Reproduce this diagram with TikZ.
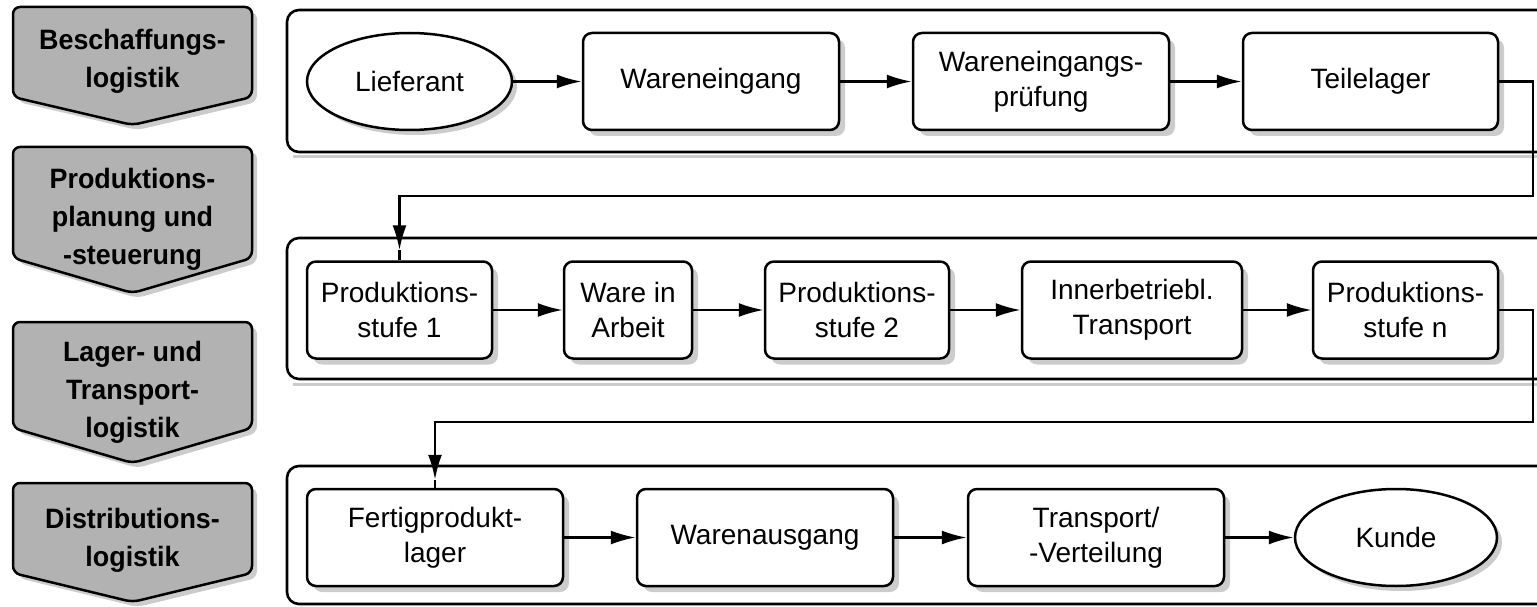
\documentclass[tikz,border=0pt]{standalone}
\usepackage{fontspec}
\setmainfont{Liberation Sans}
\newfontfamily\lblfont[FakeStretch=0.96]{Liberation Sans}
\usetikzlibrary{shapes.geometric,arrows.meta,shadows}
\definecolor{lblgray}{gray}{0.70}
\definecolor{shd}{gray}{0.80}
\begin{document}
\begin{tikzpicture}[x=1pt,y=-1pt,
  boxfont/.style={font=\fontsize{28}{35}\selectfont},
  box/.style={draw, line width=2.5pt, rounded corners=9pt, minimum height=97pt,
    inner sep=0pt, align=center, boxfont, fill=white,
    general shadow={fill=shd, shadow xshift=6pt, shadow yshift=-6pt}},
  oval/.style={ellipse, draw, line width=2.5pt, minimum height=97pt,
    inner sep=0pt, align=center, boxfont, fill=white,
    general shadow={fill=shd, shadow xshift=5pt, shadow yshift=-5pt}},
  lbltext/.style={align=center, inner sep=0pt,
    font=\lblfont\bfseries\fontsize{28}{38}\selectfont},
  lblshape/.style={fill=lblgray, draw=black, line width=2.5pt, rounded corners=7pt},
  conn/.style={line width=2.4pt},
  arr/.style={conn, -{Latex[length=25pt,width=14pt]}},
  panel/.style={line width=2.6pt, rounded corners=12pt},
]
\useasboundingbox (0,0) rectangle (1537,607);
\clip (0,0) rectangle (1537,607);

% left category labels
\foreach \t/\b/\p in {7/97/125, 147/258/293, 322/428/463, 483/573/602} {
  \fill[shd, rounded corners=7pt] (18,\t+5) -- (257,\t+5) -- (257,\b+5) -- (137.5,\p+5) -- (18,\b+5) -- cycle;
  \draw[lblshape] (13,\t) -- (252,\t) -- (252,\b) -- (132.5,\p) -- (13,\b) -- cycle;
}
\node[lbltext] (l1) at (132.5,61) {Beschaffungs-\\logistik};
\node[lbltext] (l2) at (132.5,219) {Produktions-\\planung und\\-steuerung};
\node[lbltext] (l3) at (132.5,392) {Lager- und\\Transport-\\logistik};
\node[lbltext] (l4) at (132.5,540) {Distributions-\\logistik};

% panels (open to the right)
\foreach \t/\b in {10/152, 238/379, 466/604} {
  \draw[shd, line width=3pt] (293,\b+5) -- (1560,\b+5);
  \draw[panel] (1560,\t) -- (287,\t) -- (287,\b) -- (1560,\b);
}

% row 1
\node[oval, minimum width=205pt] (lief) at (409.5,81.5) {Lieferant};
\node[box, minimum width=256pt] (we) at (711,81.5) {Wareneingang};
\node[box, minimum width=256pt] (wep) at (1041,81.5) {Wareneingangs-\\prüfung};
\node[box, minimum width=255pt] (teil) at (1370.5,81.5) {Teilelager};

% row 2
\node[box, minimum width=185pt] (p1) at (399.5,310) {Produktions-\\stufe 1};
\node[box, minimum width=128pt] (wia) at (628,310) {Ware in\\Arbeit};
\node[box, minimum width=184pt] (p2) at (857,310) {Produktions-\\stufe 2};
\node[box, minimum width=220pt] (ib) at (1132,310) {Innerbetriebl.\\Transport};
\node[box, minimum width=185pt] (pn) at (1405.5,310) {Produktions-\\stufe n};

% row 3
\node[box, minimum width=256pt] (fp) at (435,537.5) {Fertigprodukt-\\lager};
\node[box, minimum width=256pt] (wa) at (765,537.5) {Warenausgang};
\node[box, minimum width=256pt] (tv) at (1096,537.5) {Transport/\\-Verteilung};
\node[oval, minimum width=202pt] (kunde) at (1396,537.5) {Kunde};

% arrows within rows
\draw[arr] (lief.east) -- (we.west);
\draw[arr] (we.east) -- (wep.west);
\draw[arr] (wep.east) -- (teil.west);
\draw[arr] (p1.east) -- (wia.west);
\draw[arr] (wia.east) -- (p2.west);
\draw[arr] (p2.east) -- (ib.west);
\draw[arr] (ib.east) -- (pn.west);
\draw[arr] (fp.east) -- (wa.west);
\draw[arr] (wa.east) -- (tv.west);
\draw[arr] (tv.east) -- (kunde.west);

% connectors between rows
\coordinate (c1) at (1533,196);
\coordinate (c2) at (1533,422);
\draw[arr] (teil.east) -| (c1) -| ([yshift=10pt]p1.north);
\draw[conn] ([yshift=10pt]p1.north) -- (p1.north);
\draw[arr] (pn.east) -| (c2) -| ([yshift=8pt]fp.north);
\draw[conn] ([yshift=8pt]fp.north) -- (fp.north);
\end{tikzpicture}
\end{document}
